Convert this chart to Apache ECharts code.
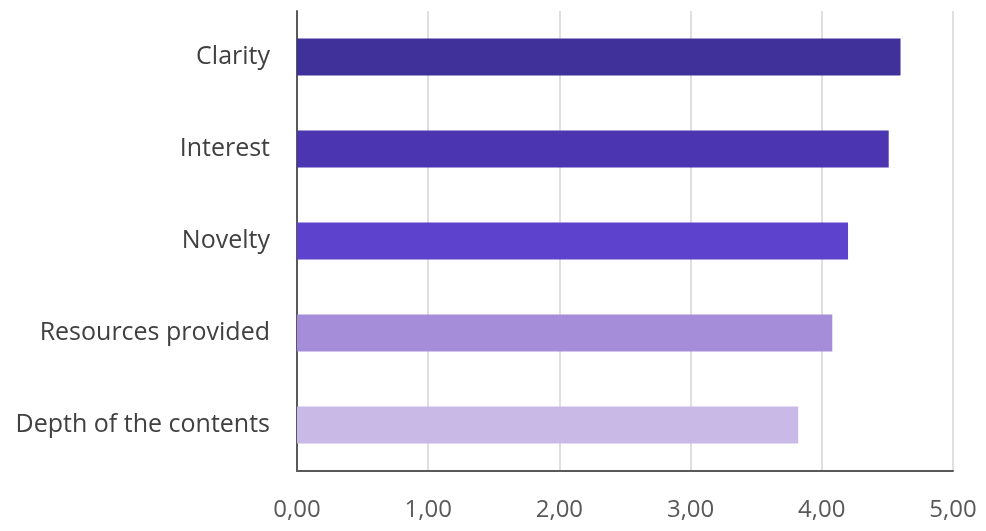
<!DOCTYPE html>
<html>
<head>
<meta charset="utf-8">
<script src="https://cdn.jsdelivr.net/npm/echarts@6/dist/echarts.min.js"></script>
<style>
html,body{margin:0;padding:0;background:#fff;}
#chart{width:986px;height:531px;}
</style>
</head>
<body>
<div id="chart"></div>
<script>
const categories = ["Clarity", "Interest", "Novelty", "Resources provided", "Depth of the contents"];
const values = [4.60, 4.51, 4.20, 4.08, 3.82];
const barColors = ["#40309a", "#4b35b1", "#5d42cd", "#a58dd9", "#c9b9e6"];
const xTicks = [0, 1, 2, 3, 4, 5];

const chart = echarts.init(document.getElementById('chart'));
chart.setOption({
  animation: false,
  backgroundColor: '#ffffff',
  grid: { left: 297, right: 33, top: 11, bottom: 60, containLabel: false },
  xAxis: {
    type: 'value',
    min: xTicks[0],
    max: xTicks[xTicks.length - 1],
    interval: 1,
    axisLine: { show: true, lineStyle: { color: '#595959', width: 2 } },
    axisTick: { show: false },
    splitLine: { show: true, lineStyle: { color: '#d4d4d4', width: 1.5 } },
    axisLabel: {
      color: '#595959',
      fontFamily: 'Open Sans',
      fontSize: 24,
      margin: 27,
      formatter: v => v.toFixed(2).replace('.', ',')
    }
  },
  yAxis: {
    type: 'category',
    data: categories,
    inverse: true,
    axisLine: { show: true, lineStyle: { color: '#595959', width: 2 } },
    axisTick: { show: false },
    splitLine: { show: false },
    axisLabel: {
      color: '#404040',
      fontFamily: 'Open Sans',
      fontSize: 25,
      margin: 27
    }
  },
  series: [{
    type: 'bar',
    data: values.map((v, i) => ({ value: v, itemStyle: { color: barColors[i] } })),
    barWidth: 37
  }]
});
</script>
</body>
</html>
